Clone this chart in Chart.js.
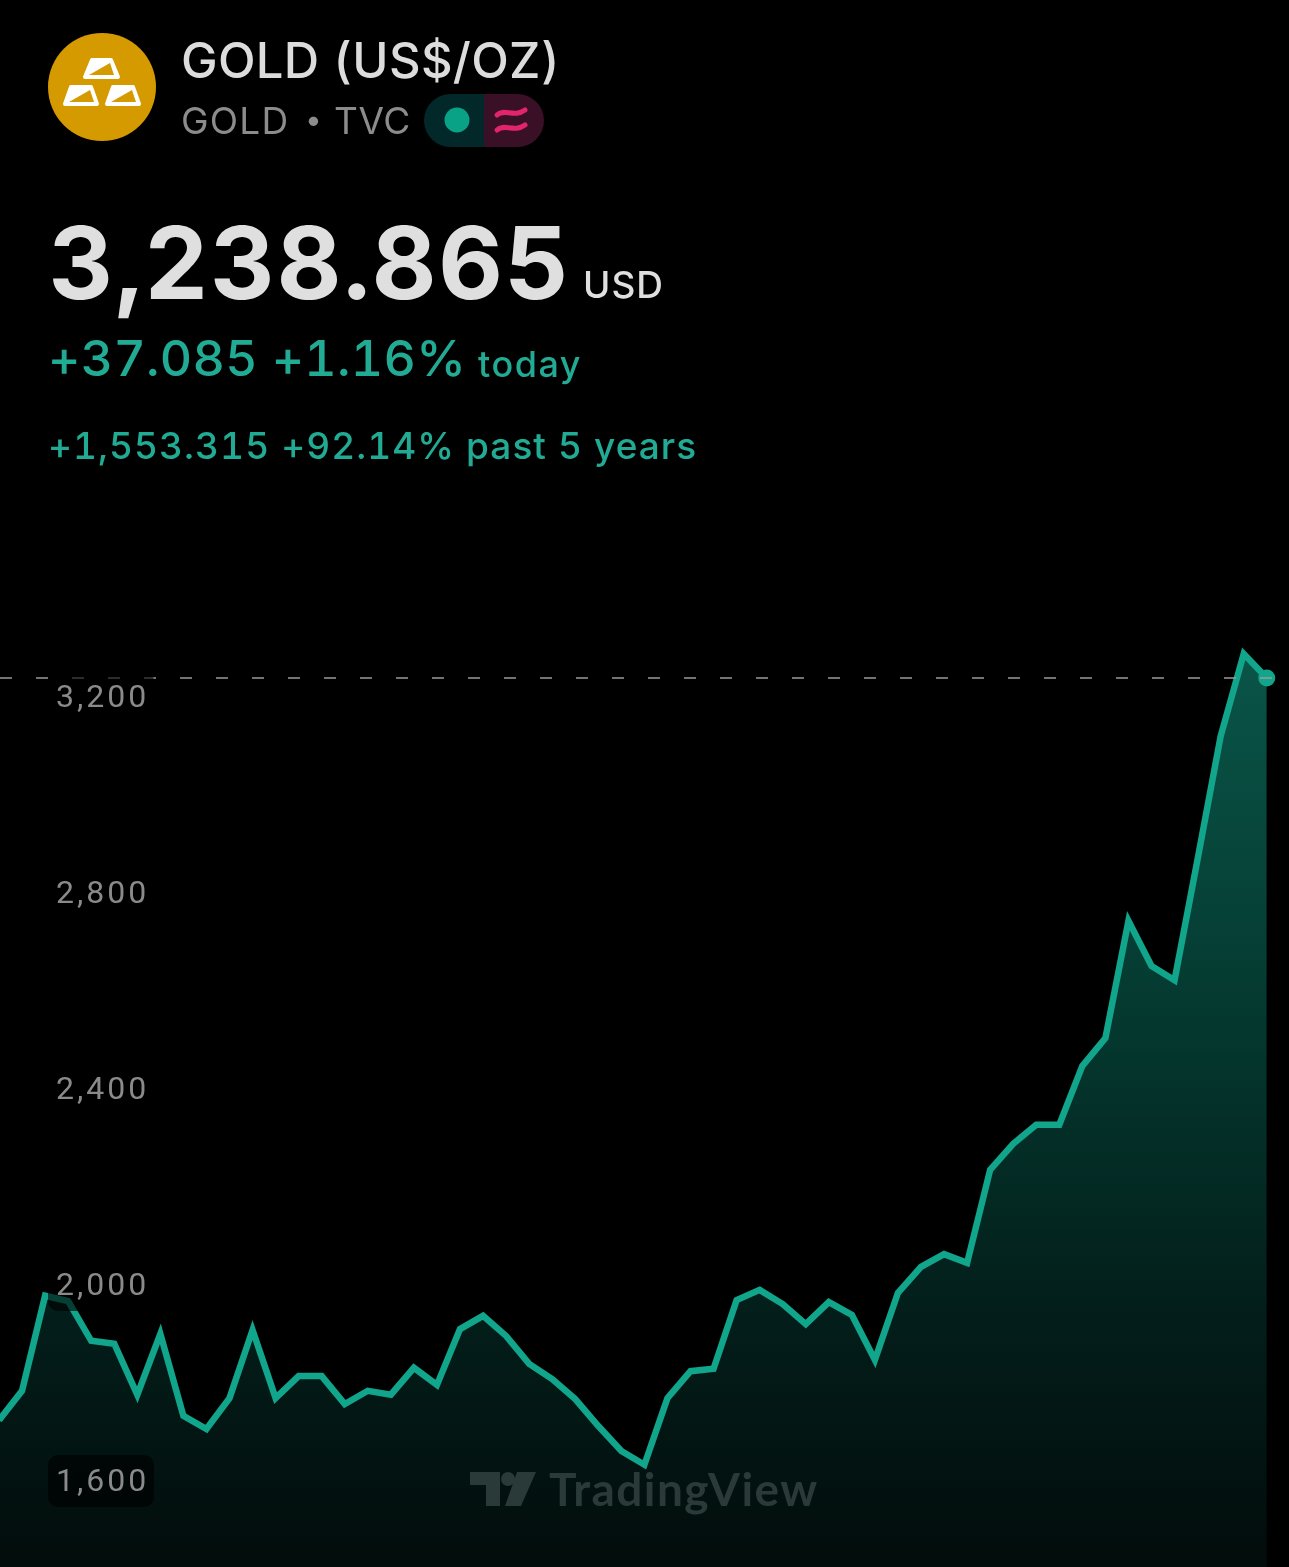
<!DOCTYPE html>
<html>
<head>
<meta charset="utf-8">
<title>GOLD (US$/OZ)</title>
<script src="https://cdn.jsdelivr.net/npm/chart.js@4"></script>
<style>
html,body{margin:0;padding:0;background:#000;width:1289px;height:1567px;overflow:hidden}
#wrap{position:relative;width:1289px;height:1567px}
canvas{position:absolute;left:0;top:0}
.t{position:absolute;white-space:nowrap;font-family:Inter,"Noto Sans",sans-serif;line-height:1;font-variant-numeric:tabular-nums}
svg{position:absolute}
</style>
</head>
<body>
<div id="wrap">
<canvas id="c" width="1289" height="1567"></canvas>

<svg style="left:48px;top:33px" width="108" height="108" viewBox="48 33 108 108">
<circle cx="102" cy="87" r="54" fill="#d49a00"/>
<g fill="#fff" stroke="#fff" stroke-width="4" stroke-linejoin="round">
<polygon points="92,60 111,60 118,77 85,77"/>
<polygon points="71,87 91,87 97,104 65,104"/>
<polygon points="113,87 133,87 139,104 107,104"/>
</g>
<g fill="#d49a00">
<polygon points="89,75 114,75 110,63"/>
<polygon points="69,102 94,102 90,90"/>
<polygon points="111,102 136,102 132,90"/>
</g>
</svg>

<div class="t" style="left:181px;top:36px;font-size:49px;font-weight:500;color:#dcdcdc;letter-spacing:.3px">GOLD (US$/OZ)</div>
<div class="t" style="left:181px;top:102px;font-size:37px;color:#8c8c8c;letter-spacing:1.2px">GOLD</div>
<div class="t" style="left:305px;top:104px;font-size:30px;color:#8c8c8c">•</div>
<div class="t" style="left:334px;top:102px;font-size:37px;color:#8c8c8c;letter-spacing:.6px">TVC</div>

<svg style="left:424px;top:94px" width="120" height="53" viewBox="0 0 120 53">
<path d="M26.500,0H60V53H26.500A26.500,26.500 0 0 1 26.500,0Z" fill="#02282a"/>
<path d="M60,0H93.500A26.500,26.500 0 0 1 93.500,53H60Z" fill="#3a1026"/>
<circle cx="33" cy="26" r="12.500" fill="#0aa287"/>
<g fill="none" stroke="#e2246c" stroke-width="5" stroke-linecap="round">
<path d="M73,21C80,14 90,24 101,16"/>
<path d="M73,36C80,29 90,39 101,31"/>
</g>
</svg>

<div class="t" style="left:49px;top:213px;font-size:100px;font-weight:700;color:#dfdfdf;letter-spacing:1.75px">3,238.865</div>
<div class="t" style="left:583px;top:266px;font-size:37px;font-weight:500;color:#dfdfdf;letter-spacing:1px">USD</div>
<div class="t" style="left:48px;top:333px;font-size:50px;font-weight:500;color:#22ab94;letter-spacing:.3px">+37.085 +1.16%</div>
<div class="t" style="left:478px;top:346px;font-size:36px;font-weight:500;color:#22ab94;letter-spacing:1.5px">today</div>
<div class="t" style="left:48px;top:427px;font-size:37px;font-weight:500;color:#22ab94;letter-spacing:1.05px">+1,553.315 +92.14% past 5 years</div>

<svg style="left:470px;top:1470px" width="68" height="36" viewBox="0 0 68 36">
<g fill="#293a38">
<path d="M0,2H30V36H16V15H0Z"/>
<circle cx="38" cy="9" r="7"/>
<path d="M47,2H66L51,36H35Z"/>
</g>
</svg>
<div class="t" style="left:549px;top:1466px;font-family:Lato,sans-serif;font-size:46px;font-weight:700;color:#293a38;letter-spacing:1.4px">TradingView</div>
</div>

<script>
const goldValues = [1724,1784,1978,1967,1886,1880,1776,1900,1733,1706,1769,1908,1769,1814,1814,1757,1784,1776,1831,1796,1910,1937,1896,1839,1808,1767,1712,1661,1633,1769,1824,1829,1969,1990,1961,1920,1965,1939,1847,1984,2037,2063,2045,2235,2288,2327,2327,2447,2504,2743,2651,2622,2869,3120,3288,3238.865];
const yTickValues = [1600,2000,2400,2800,3200];
const lastPrice = 3238.865;

const Y_MAX = 4622.4, Y_MIN = 1424.4;
const X_MIN = 0.0434, X_MAX = 55.965;
const LABEL_NUDGE = 2;

const labelBackdrop = {
  id:'labelBackdrop',
  beforeDraw(chart){ chart.ctx.letterSpacing = '3px'; },
  afterDatasetsDraw(chart){
    const {ctx, scales:{y}} = chart;
    ctx.save();
    ctx.fillStyle = 'rgba(0,0,0,0.62)';
    yTickValues.forEach(v=>{
      const p = y.getPixelForValue(v);
      ctx.beginPath();
      ctx.roundRect(48, p-26, 106, 52, 10);
      ctx.fill();
    });
    ctx.restore();
    ctx.translate(0, LABEL_NUDGE);
  },
  afterDraw(chart){ chart.ctx.translate(0, -LABEL_NUDGE); }
};

const noFit = a=>{
  a.paddingLeft=a.paddingRight=a.paddingTop=a.paddingBottom=0;
  if(a.axis==='y'){a.width=0;} else {a.height=0;}
};

const ctx = document.getElementById('c').getContext('2d');
const grad = ctx.createLinearGradient(0,650,0,1567);
grad.addColorStop(0,'#0a5548');
grad.addColorStop(0.41,'#04382f');
grad.addColorStop(0.71,'#031f1b');
grad.addColorStop(1,'#020c0b');

new Chart(ctx,{
  type:'line',
  data:{datasets:[
    {
      data:[{x:X_MIN,y:lastPrice},{x:X_MAX,y:lastPrice}],
      borderColor:'#9a9a9a',
      borderWidth:1.5,
      borderDash:[12,24],
      pointRadius:0,
      fill:false,
      order:0
    },
    {
      data:goldValues.map((y,x)=>({x,y})),
      borderColor:'#11a58b',
      borderWidth:6.5,
      borderJoinStyle:'miter',
      tension:0,
      fill:'start',
      backgroundColor:grad,
      pointRadius:c=>c.dataIndex===goldValues.length-1?8.5:0,
      pointBackgroundColor:'#11a58b',
      pointBorderWidth:0,
      order:1
    }
  ]},
  plugins:[labelBackdrop],
  options:{
    responsive:false,
    animation:false,
    layout:{padding:0,autoPadding:false},
    plugins:{legend:{display:false},tooltip:{enabled:false},title:{display:false}},
    scales:{
      x:{type:'linear',display:false,min:X_MIN,max:X_MAX,afterFit:noFit},
      y:{
        type:'linear',
        position:'left',
        min:Y_MIN,max:Y_MAX,
        afterBuildTicks:a=>{a.ticks=yTickValues.map(value=>({value}));},
        afterFit:noFit,
        grid:{display:false,drawTicks:false},
        border:{display:false},
        ticks:{
          z:1,
          mirror:true,
          padding:56,
          autoSkip:false,
          color:'#8a8a8a',
          font:{family:'Roboto',size:32},
          callback:v=>v.toLocaleString('en-US')
        }
      }
    }
  }
});
</script>
</body>
</html>
